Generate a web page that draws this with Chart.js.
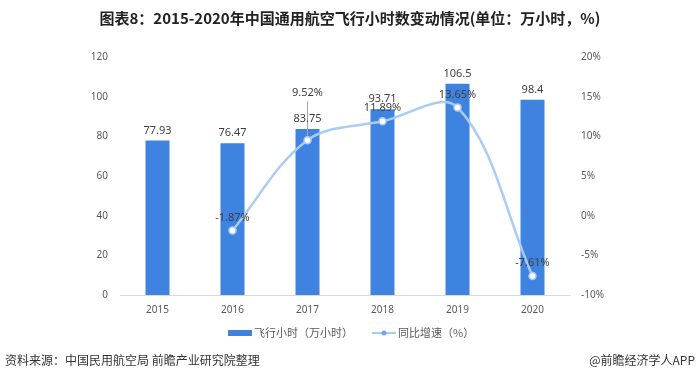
<!DOCTYPE html>
<html><head><meta charset="utf-8">
<script src="https://cdn.jsdelivr.net/npm/chart.js@4.4.0/dist/chart.umd.min.js"></script>
<style>
html,body{margin:0;padding:0;background:#fff;}
#wrap{position:relative;width:700px;height:382px;overflow:hidden;font-family:"Noto Sans CJK SC","Noto Sans",sans-serif;}
#title{position:absolute;left:0;top:7px;width:700px;text-align:center;font-size:15px;font-weight:bold;color:#222;line-height:22px;}
#src{position:absolute;left:5px;top:351px;font-size:12px;color:#333;line-height:18px;}
#app{position:absolute;right:5px;top:351px;font-size:12px;color:#333;line-height:18px;}
canvas{position:absolute;left:0;top:0;}
</style></head>
<body><div id="wrap">
<canvas id="c" width="700" height="382"></canvas>
<div id="title">图表8：2015-2020年中国通用航空飞行小时数变动情况(单位：万小时，%)</div>
<div id="src">资料来源：中国民用航空局 前瞻产业研究院整理</div>
<div id="app">@前瞻经济学人APP</div>
</div>
<script>
const categories = ['2015','2016','2017','2018','2019','2020'];
const flightHours = [77.93, 76.47, 83.75, 93.71, 106.5, 98.4];
const growthRate = [null, -1.87, 9.52, 11.89, 13.65, -7.61];
const leftTicks = [0, 20, 40, 60, 80, 100, 120];
const rightTicks = [-10, -5, 0, 5, 10, 15, 20];
const seriesNames = ['飞行小时（万小时）', '同比增速（%）'];

const BAR_COLOR = '#3F83E0';
const LINE_COLOR = '#A9CCF6';
const LABEL_COLOR = '#404040';
const FONT = '"Noto Sans CJK SC","Noto Sans",sans-serif';
const NUM_FONT = '"Noto Sans","Noto Sans CJK SC",sans-serif';

const labelPlugin = {
  id: 'valueLabels',
  afterDatasetsDraw(chart) {
    const ctx = chart.ctx;
    ctx.save();
    ctx.font = '11px ' + NUM_FONT;
    ctx.fillStyle = LABEL_COLOR;
    ctx.textAlign = 'center';
    ctx.textBaseline = 'middle';
    chart.data.datasets.forEach((ds, di) => {
      const meta = chart.getDatasetMeta(di);
      meta.data.forEach((el, i) => {
        const v = ds.data[i];
        if (v === null || v === undefined) return;
        if (ds.type === 'bar') {
          ctx.fillText(String(v), el.x, el.y - 10);
        } else {
          const txt = v.toFixed(2) + '%';
          if (i === 2) {
            ctx.fillText(txt, el.x, el.y - 47);
            ctx.strokeStyle = '#A6A6A6';
            ctx.lineWidth = 1;
            ctx.beginPath();
            ctx.moveTo(el.x, el.y - 39);
            ctx.lineTo(el.x, el.y - 4);
            ctx.stroke();
          } else {
            ctx.fillText(txt, el.x, el.y - 13);
          }
        }
      });
    });
    ctx.restore();
  }
};

const legendPlugin = {
  id: 'customLegend',
  afterDraw(chart) {
    const ctx = chart.ctx;
    ctx.save();
    const y = 333;
    ctx.fillStyle = BAR_COLOR;
    ctx.fillRect(228, y - 3, 24, 6);
    ctx.font = '11px ' + FONT;
    ctx.fillStyle = '#595959';
    ctx.textAlign = 'left';
    ctx.textBaseline = 'middle';
    ctx.fillText(seriesNames[0], 254, y);
    ctx.strokeStyle = LINE_COLOR;
    ctx.lineWidth = 2;
    ctx.beginPath();
    ctx.moveTo(372, y);
    ctx.lineTo(396, y);
    ctx.stroke();
    ctx.fillStyle = '#6FA6EC';
    ctx.beginPath();
    ctx.arc(384, y, 2.5, 0, Math.PI * 2);
    ctx.fill();
    ctx.fillStyle = '#595959';
    ctx.fillText(seriesNames[1], 398, y);
    ctx.restore();
  }
};

new Chart(document.getElementById('c'), {
  data: {
    labels: categories,
    datasets: [
      {
        type: 'line',
        label: seriesNames[1],
        data: growthRate,
        yAxisID: 'y1',
        borderColor: LINE_COLOR,
        borderWidth: 2.5,
        tension: 0.35,
        pointRadius: 3.5,
        pointBorderWidth: 1.5,
        pointBackgroundColor: '#fff',
        pointBorderColor: LINE_COLOR,
        order: 0
      },
      {
        type: 'bar',
        label: seriesNames[0],
        data: flightHours,
        yAxisID: 'y',
        backgroundColor: BAR_COLOR,
        barPercentage: 0.32,
        categoryPercentage: 1,
        grouped: false,
        order: 1
      }
    ]
  },
  options: {
    responsive: false,
    animation: false,
    layout: { padding: { top: 57, bottom: 0, left: 0, right: 0 } },
    plugins: { legend: { display: false }, title: { display: false }, tooltip: { enabled: false } },
    scales: {
      x: {
        grid: { display: false, drawTicks: false },
        border: { display: true, color: '#D9D9D9', width: 1 },
        ticks: { color: '#595959', font: { size: 10, family: NUM_FONT }, padding: 9 },
        afterFit(s) { s.height = 87; }
      },
      y: {
        position: 'left',
        min: 0, max: 120,
        grid: { display: false, drawTicks: false },
        border: { display: false },
        afterBuildTicks(s) { s.ticks = leftTicks.map(v => ({ value: v })); },
        ticks: { color: '#595959', font: { size: 10, family: NUM_FONT }, padding: 12 },
        afterFit(s) { s.width = 120; }
      },
      y1: {
        position: 'right',
        min: -10, max: 20,
        grid: { display: false, drawTicks: false },
        border: { display: false },
        afterBuildTicks(s) { s.ticks = rightTicks.map(v => ({ value: v })); },
        ticks: { color: '#595959', font: { size: 10, family: NUM_FONT }, padding: 11, callback: v => v + '%' },
        afterFit(s) { s.width = 130; }
      }
    }
  },
  plugins: [labelPlugin, legendPlugin]
});
</script>
</body></html>
